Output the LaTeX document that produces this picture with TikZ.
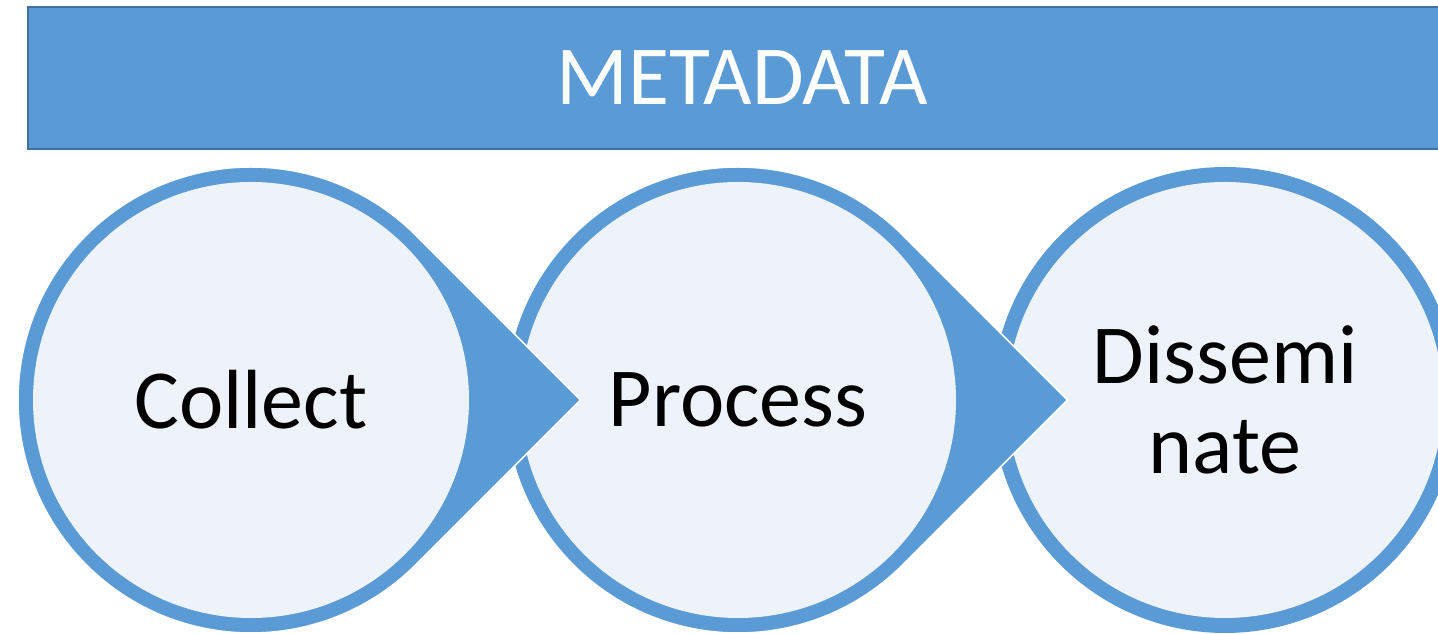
\documentclass[tikz,border=0pt]{standalone}
\usepackage{fontspec}
\setmainfont{Carlito}
\usetikzlibrary{calc}
\definecolor{accent}{HTML}{5B9BD5}
\definecolor{accentdark}{HTML}{41719C}
\definecolor{innerfill}{HTML}{EEF3FA}
\tikzset{
  banner/.style={rectangle, fill=accent, draw=accentdark, line width=2pt,
    inner sep=0pt, text=white, font=\fontsize{84}{90}\selectfont},
  ringshape/.style={fill=accent, draw=white, line width=1.5pt},
  innercircle/.style={circle, fill=innerfill, inner sep=0pt, minimum size=436pt,
    text=black, align=center, font=\fontsize{84}{90}\selectfont},
}
\begin{document}
\begin{tikzpicture}[x=1pt,y=1pt]
\useasboundingbox (0,0) rectangle (1438,634);
% banner
\node[banner, minimum width=1428pt, minimum height=142pt] (meta) at (742,556) {METADATA};
% centres
\coordinate (c1) at (251,234);
\coordinate (c2) at (738,234);
\coordinate (c3) at (1225,234);
% third item: plain ring
\fill[accent] (c3) circle (233pt);
\node[innercircle] (dissem) at (c3) {Dissemi\\nate};
% second item: teardrop ring with arrow tip
\coordinate (t2) at ($(c2)+(329.5,0)$);
\draw[ringshape] ($(c2)+(45:233pt)$) arc[start angle=45, end angle=315, radius=233pt] -- (t2) -- cycle;
\node[innercircle] (process) at (c2) {Process};
% first item
\coordinate (t1) at ($(c1)+(329.5,0)$);
\draw[ringshape] ($(c1)+(45:233pt)$) arc[start angle=45, end angle=315, radius=233pt] -- (t1) -- cycle;
\node[innercircle] (collect) at (c1) {Collect};
\end{tikzpicture}
\end{document}
